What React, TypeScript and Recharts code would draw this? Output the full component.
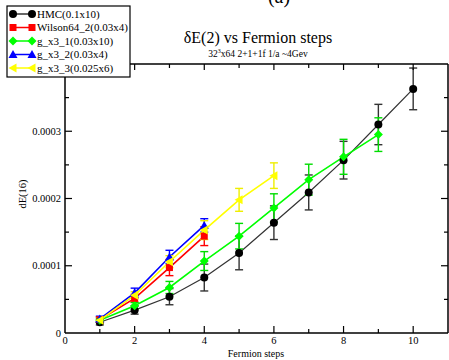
import React from "react";
import { ComposedChart, Line, XAxis, YAxis, ErrorBar } from "recharts";

// ---- data ----
const hmcSteps = [1, 2, 3, 4, 5, 6, 7, 8, 9, 10];
const hmcY = [0.000016, 0.000034, 0.000054, 0.0000825, 0.000119, 0.000164, 0.000209, 0.000257, 0.00031, 0.000363];
const hmcErr = [0.000004, 0.000006, 0.000012, 0.00002, 0.000025, 0.000025, 0.000026, 0.000028, 0.00003, 0.000031];

const wilsonSteps = [1, 2, 3, 4];
const wilsonY = [0.00002, 0.0000514, 0.0000973, 0.000144];
const wilsonErr = [0.000004, 0.000006, 0.000012, 0.000014];

const gx31Steps = [1, 2, 3, 4, 5, 6, 7, 8, 9];
const gx31Y = [0.000019, 0.0000405, 0.0000677, 0.000107, 0.000144, 0.000186, 0.000228, 0.000262, 0.000295];
const gx31Err = [0.000003, 0.000005, 0.000009, 0.000014, 0.000019, 0.000021, 0.000023, 0.000026, 0.000025];

const gx32Steps = [1, 2, 3, 4];
const gx32Y = [0.000021, 0.0000597, 0.000113, 0.00016];
const gx32Err = [0.000004, 0.000007, 0.00001, 0.00001];

const gx33Steps = [1, 2, 3, 4, 5, 6];
const gx33Y = [0.000019, 0.0000563, 0.000106, 0.000153, 0.000198, 0.000234];
const gx33Err = [0.000004, 0.000005, 0.000009, 0.000014, 0.000017, 0.000019];

const xTicks = [0, 1, 2, 3, 4, 5, 6, 7, 8, 9, 10, 11];
const yTicks = [0, 0.00005, 0.0001, 0.00015, 0.0002, 0.00025, 0.0003, 0.00035, 0.0004];

const titleText = "δE(2) vs Fermion steps";
const xLabel = "Fermion steps";
const yLabel = "dE(16)";

const build = (xs: number[], ys: number[], es: number[]) =>
  xs.map((x, i) => ({ x, y: ys[i], e: es[i] }));

type Kind = "circle" | "square" | "diamond" | "triUp" | "triLeft";

const series: { name: string; color: string; line: string; err: string; kind: Kind; data: any[] }[] = [
  { name: "HMC(0.1x10)", color: "#000000", line: "#333333", err: "#333333", kind: "circle", data: build(hmcSteps, hmcY, hmcErr) },
  { name: "Wilson64_2(0.03x4)", color: "#ff0000", line: "#ff0000", err: "#ff0000", kind: "square", data: build(wilsonSteps, wilsonY, wilsonErr) },
  { name: "g_x3_1(0.03x10)", color: "#00ff00", line: "#00ff00", err: "#00dd00", kind: "diamond", data: build(gx31Steps, gx31Y, gx31Err) },
  { name: "g_x3_2(0.03x4)", color: "#0000ff", line: "#0000ff", err: "#0000ff", kind: "triUp", data: build(gx32Steps, gx32Y, gx32Err) },
  { name: "g_x3_3(0.025x6)", color: "#ffff00", line: "#ffff00", err: "#eeee00", kind: "triLeft", data: build(gx33Steps, gx33Y, gx33Err) },
];

const FONT = "'Liberation Serif', 'DejaVu Serif', serif";

function Marker({ kind, cx, cy, color }: { kind: Kind; cx: number; cy: number; color: string }) {
  const s = 4;
  switch (kind) {
    case "circle":
      return <circle cx={cx} cy={cy} r={s} fill={color} />;
    case "square":
      return <rect x={cx - 3.5} y={cy - 3.5} width={7} height={7} fill={color} />;
    case "diamond":
      return <polygon points={`${cx},${cy - 4.5} ${cx + 4.5},${cy} ${cx},${cy + 4.5} ${cx - 4.5},${cy}`} fill={color} />;
    case "triUp":
      return <polygon points={`${cx},${cy - 4.5} ${cx + 4.5},${cy + 3.5} ${cx - 4.5},${cy + 3.5}`} fill={color} />;
    case "triLeft":
      return <polygon points={`${cx - 4.5},${cy} ${cx + 3.5},${cy - 4.5} ${cx + 3.5},${cy + 4.5}`} fill={color} />;
  }
  return null;
}

const BottomTick = (props: any) => {
  const { x, y, payload } = props;
  const v = Math.round(payload.value);
  const major = v % 2 === 0;
  return (
    <g>
      {v > 0 && v < 11 && (
        <line x1={x} x2={x} y1={y} y2={y - (major ? 7 : 4)} stroke="#000" strokeWidth={1.2} />
      )}
      {major && v <= 10 && (
        <text x={x} y={y + 11} textAnchor="middle" fontFamily={FONT} fontSize={10.5} fill="#000">
          {v}
        </text>
      )}
    </g>
  );
};

const TopTick = (props: any) => {
  const { x, y, payload } = props;
  const v = Math.round(payload.value);
  if (v <= 0 || v >= 11) return <g />;
  const major = v % 2 === 0;
  return <line x1={x} x2={x} y1={y} y2={y + (major ? 6 : 4)} stroke="#000" strokeWidth={1.2} />;
};

const LeftTick = (props: any) => {
  const { x, y, payload } = props;
  const k = Math.round(payload.value / 0.00005);
  const major = k % 2 === 0;
  return (
    <g>
      {k > 0 && k < 8 && (
        <line x1={x} x2={x + (major ? 7 : 4)} y1={y} y2={y} stroke="#000" strokeWidth={1.2} />
      )}
      {major && k < 8 && (
        <text x={x - 4} y={y} dy="0.35em" textAnchor="end" fontFamily={FONT} fontSize={10.5} fill="#000">
          {k === 0 ? "0" : (k * 0.00005).toFixed(4)}
        </text>
      )}
    </g>
  );
};

const RightTick = (props: any) => {
  const { x, y, payload } = props;
  const k = Math.round(payload.value / 0.00005);
  if (k <= 0 || k >= 8) return <g />;
  const major = k % 2 === 0;
  return <line x1={x} x2={x - (major ? 7 : 4)} y1={y} y2={y} stroke="#000" strokeWidth={1.2} />;
};

export default function App() {
  return (
    <div style={{ position: "absolute", left: 0, top: 0, width: 449, height: 360, background: "#fff" }}>
      <ComposedChart
        width={449}
        height={360}
        margin={{ top: 63, right: 0, bottom: 26, left: 64 }}
      >
        <XAxis
          xAxisId="b"
          type="number"
          dataKey="x"
          domain={[0, 11]}
          ticks={xTicks}
          allowDataOverflow
          height={1}
          tickSize={0}
          tickMargin={0}
          tickLine={false}
          tick={BottomTick}
          axisLine={{ stroke: "#000", strokeWidth: 1.5 }}
          interval={0}
        />
        <XAxis
          xAxisId="t"
          orientation="top"
          type="number"
          dataKey="x"
          domain={[0, 11]}
          ticks={xTicks}
          allowDataOverflow
          height={1}
          tickSize={0}
          tickMargin={0}
          tickLine={false}
          tick={TopTick}
          axisLine={{ stroke: "#000", strokeWidth: 1.5 }}
          interval={0}
        />
        <YAxis
          yAxisId="l"
          type="number"
          domain={[0, 0.0004]}
          ticks={yTicks}
          allowDataOverflow
          width={1}
          tickSize={0}
          tickMargin={0}
          tickLine={false}
          tick={LeftTick}
          axisLine={{ stroke: "#000", strokeWidth: 1.5 }}
          interval={0}
        />
        <YAxis
          yAxisId="r"
          orientation="right"
          type="number"
          domain={[0, 0.0004]}
          ticks={yTicks}
          allowDataOverflow
          width={1}
          tickSize={0}
          tickMargin={0}
          tickLine={false}
          tick={RightTick}
          axisLine={{ stroke: "#000", strokeWidth: 1.5 }}
          interval={0}
        />
        {series.map((s) => (
          <Line
            key={s.name}
            xAxisId="b"
            yAxisId="l"
            data={s.data}
            dataKey="y"
            type="linear"
            stroke={s.line}
            strokeWidth={s.kind === "circle" ? 1.2 : 1.6}
            isAnimationActive={false}
            dot={(p: any) => (
              <Marker key={`${s.name}-${p.index}`} kind={s.kind} cx={p.cx} cy={p.cy} color={s.color} />
            )}
            activeDot={false}
          >
            <ErrorBar dataKey="e" direction="y" width={4} stroke={s.err} strokeWidth={1.4} isAnimationActive={false} />
          </Line>
        ))}
      </ComposedChart>
      <svg
        width={449}
        height={360}
        style={{ position: "absolute", left: 0, top: 0, pointerEvents: "none" }}
      >
        <text x={279} y={3} textAnchor="middle" fontFamily={FONT} fontSize={20} fill="#000">(a)</text>
        <text x={258} y={43} textAnchor="middle" fontFamily={FONT} fontSize={16} fill="#000">
          {titleText}
        </text>
        <text x={258} y={57} textAnchor="middle" fontFamily={FONT} fontSize={9.5} fill="#000">
          32<tspan fontSize={6} dy={-4}>3</tspan>
          <tspan dy={4}>x64 2+1+1f 1/a ~4Gev</tspan>
        </text>
        <text x={256} y={357} textAnchor="middle" fontFamily={FONT} fontSize={10} fill="#000">
          {xLabel}
        </text>
        <text
          x={0}
          y={0}
          transform="translate(26,194) rotate(-90)"
          textAnchor="middle"
          fontFamily={FONT}
          fontSize={10.5}
          fill="#000"
        >
          {yLabel}
        </text>
        <rect x={7} y={6} width={123} height={71} fill="#fff" stroke="#000" strokeWidth={1.2} />
        {series.map((s, i) => {
          const cy = 14 + i * 13.5;
          return (
            <g key={s.name}>
              <line x1={13} x2={32} y1={cy} y2={cy} stroke={s.line} strokeWidth={1.5} />
              <Marker kind={s.kind} cx={13} cy={cy} color={s.color} />
              <Marker kind={s.kind} cx={32} cy={cy} color={s.color} />
              <text x={37} y={cy} dy="0.35em" fontFamily={FONT} fontSize={11} fill="#000">
                {s.name}
              </text>
            </g>
          );
        })}
      </svg>
    </div>
  );
}
